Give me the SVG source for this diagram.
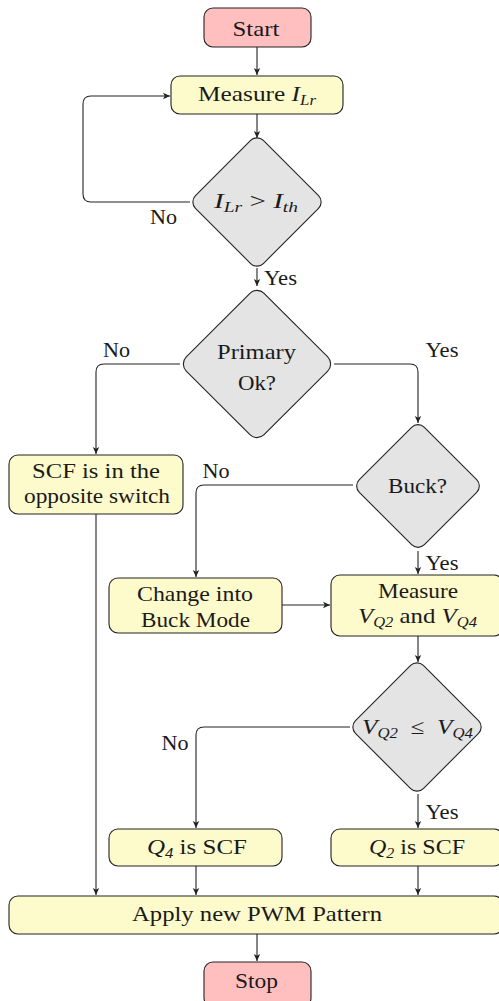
<svg xmlns="http://www.w3.org/2000/svg" width="499" height="1001" viewBox="0 0 499 1001">
<style>
text{font-family:"Liberation Serif","DejaVu Serif",serif;font-size:21px;fill:#1a1a1a;text-anchor:middle;white-space:pre}
.lbl{font-size:20px}
.it{font-style:italic}
.sub{font-size:14px;font-style:italic}
.term{fill:#ffbfbf;stroke:#222;stroke-width:1.1}
.proc{fill:#fdfbcb;stroke:#222;stroke-width:1.1}
.dec{fill:#e4e4e4;stroke:#222;stroke-width:1.1}
.edge{fill:none;stroke:#222;stroke-width:1.1;marker-end:url(#arr)}
</style>
<defs>
<marker id="arr" markerWidth="8" markerHeight="8" refX="7" refY="4" orient="auto" markerUnits="userSpaceOnUse">
<path d="M0,0.8 L7,4 L0,7.2 L1.8,4 Z" fill="#222"/>
</marker>
</defs>
<g id="connectors">
<path class="edge" d="M257,47 V75"/>
<path class="edge" d="M257,114 V138"/>
<path class="edge" d="M190,202 H91 Q83,202 83,194 V104 Q83,96 91,96 H170"/>
<path class="edge" d="M257,268 V286"/>
<path class="edge" d="M180,364 H104 Q96,364 96,372 V454"/>
<path class="edge" d="M334,364 H410 Q418,364 418,372 V423"/>
<path class="edge" d="M353,485 H204 Q196,485 196,493 V577"/>
<path class="edge" d="M418,551 V574"/>
<path class="edge" d="M282,605 H330"/>
<path class="edge" d="M418,636 V662"/>
<path class="edge" d="M350,727 H204 Q196,727 196,735 V828"/>
<path class="edge" d="M418,794 V828"/>
<path class="edge" d="M96,514 V895"/>
<path class="edge" d="M196,866 V895"/>
<path class="edge" d="M418,866 V895"/>
<path class="edge" d="M257,934 V961"/>
</g>
<g id="start"><rect class="term" x="204" y="8" width="107" height="39" rx="9"/><text x="256" y="36" textLength="47" lengthAdjust="spacingAndGlyphs">Start</text></g>
<g id="measure-ilr"><rect class="proc" x="171" y="76" width="172" height="38" rx="9"/><text x="257" y="101" textLength="118" lengthAdjust="spacingAndGlyphs">Measure <tspan class="it">I</tspan><tspan class="sub" dy="4">Lr</tspan></text></g>
<g id="dec-ilr"><rect class="dec" x="209" y="154" width="96" height="96" rx="9" transform="rotate(45 257 202)"/><text x="256" y="208" textLength="84" lengthAdjust="spacingAndGlyphs"><tspan class="it">I</tspan><tspan class="sub" dy="4">Lr</tspan><tspan dy="-4"> &gt; </tspan><tspan class="it">I</tspan><tspan class="sub" dy="4">th</tspan></text></g>
<g id="dec-primary"><rect class="dec" x="202" y="309" width="110" height="110" rx="10" transform="rotate(45 257 364)"/><text x="256.5" y="359" textLength="79" lengthAdjust="spacingAndGlyphs">Primary</text><text x="257" y="390" textLength="38" lengthAdjust="spacingAndGlyphs">Ok?</text></g>
<g id="scf-opposite"><rect class="proc" x="9" y="455" width="174" height="59" rx="9"/><text x="96" y="478" textLength="128" lengthAdjust="spacingAndGlyphs">SCF is in the</text><text x="97" y="503" textLength="146" lengthAdjust="spacingAndGlyphs">opposite switch</text></g>
<g id="dec-buck"><rect class="dec" x="372" y="440" width="92" height="92" rx="9" transform="rotate(45 418 486)"/><text x="417.5" y="493" textLength="59" lengthAdjust="spacingAndGlyphs">Buck?</text></g>
<g id="change-buck"><rect class="proc" x="109" y="578" width="173" height="55" rx="9"/><text x="195" y="601" textLength="116" lengthAdjust="spacingAndGlyphs">Change into</text><text x="195.5" y="627" textLength="109" lengthAdjust="spacingAndGlyphs">Buck Mode</text></g>
<g id="measure-vq"><rect class="proc" x="331" y="575" width="172" height="61" rx="9"/><text x="418" y="598" textLength="80" lengthAdjust="spacingAndGlyphs">Measure</text><text x="417.5" y="623" textLength="119" lengthAdjust="spacingAndGlyphs"><tspan class="it">V</tspan><tspan class="sub" dy="4">Q2</tspan><tspan dy="-4"> and </tspan><tspan class="it">V</tspan><tspan class="sub" dy="4">Q4</tspan></text></g>
<g id="dec-vq"><rect class="dec" x="369" y="679" width="96" height="96" rx="9" transform="rotate(45 417 727)"/><text x="417.5" y="734" textLength="111" lengthAdjust="spacingAndGlyphs"><tspan class="it">V</tspan><tspan class="sub" dy="4">Q2</tspan><tspan dy="-4">  ≤  </tspan><tspan class="it">V</tspan><tspan class="sub" dy="4">Q4</tspan></text></g>
<g id="q4-scf"><rect class="proc" x="109" y="829" width="173" height="37" rx="9"/><text x="197" y="854" textLength="100" lengthAdjust="spacingAndGlyphs"><tspan class="it">Q</tspan><tspan class="sub" dy="4">4</tspan><tspan dy="-4"> is SCF</tspan></text></g>
<g id="q2-scf"><rect class="proc" x="331" y="829" width="172" height="37" rx="9"/><text x="417" y="854" textLength="96" lengthAdjust="spacingAndGlyphs"><tspan class="it">Q</tspan><tspan class="sub" dy="4">2</tspan><tspan dy="-4"> is SCF</tspan></text></g>
<g id="apply-pwm"><rect class="proc" x="9" y="896" width="494" height="38" rx="9"/><text x="257" y="921" textLength="250" lengthAdjust="spacingAndGlyphs">Apply new PWM Pattern</text></g>
<g id="stop"><rect class="term" x="204" y="962" width="107" height="45" rx="9"/><text x="256.5" y="988" textLength="43" lengthAdjust="spacingAndGlyphs">Stop</text></g>
<g id="labels">
<text class="lbl" x="163.5" y="224" textLength="27" lengthAdjust="spacingAndGlyphs">No</text>
<text class="lbl" x="280.5" y="285" textLength="33" lengthAdjust="spacingAndGlyphs">Yes</text>
<text class="lbl" x="116.5" y="357" textLength="27" lengthAdjust="spacingAndGlyphs">No</text>
<text class="lbl" x="442" y="357" textLength="33" lengthAdjust="spacingAndGlyphs">Yes</text>
<text class="lbl" x="216" y="478" textLength="27" lengthAdjust="spacingAndGlyphs">No</text>
<text class="lbl" x="442" y="570" textLength="33" lengthAdjust="spacingAndGlyphs">Yes</text>
<text class="lbl" x="175" y="750" textLength="27" lengthAdjust="spacingAndGlyphs">No</text>
<text class="lbl" x="442" y="819" textLength="33" lengthAdjust="spacingAndGlyphs">Yes</text>
</g>
</svg>
